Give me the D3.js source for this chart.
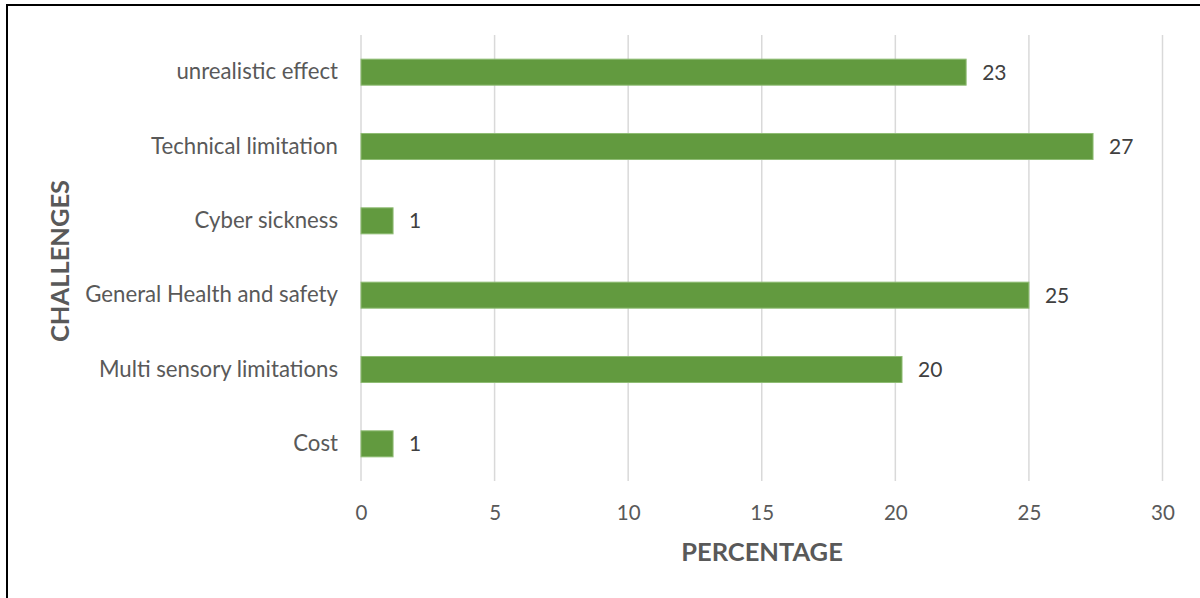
<!DOCTYPE html>
<html>
<head>
<meta charset="utf-8">
<script src="https://cdn.jsdelivr.net/npm/d3@7"></script>
<style>
  html, body { margin: 0; padding: 0; background: #fff; }
  svg { display: block; }
</style>
</head>
<body>
<svg id="chart" width="1200" height="598"></svg>
<script>
const categories = ["unrealistic effect", "Technical limitation", "Cyber sickness", "General Health and safety", "Multi sensory limitations", "Cost"];
const values = [22.65, 27.4, 1.2, 25.0, 20.25, 1.2];
const valueLabels = ["23", "27", "1", "25", "20", "1"];
const xTicks = [0, 5, 10, 15, 20, 25, 30];
const xTitle = "PERCENTAGE";
const yTitle = "CHALLENGES";

(function () {
const svg = d3.select("#chart");
const font = "Lato, 'Open Sans', sans-serif";

svg.append("rect")
  .attr("x", 7).attr("y", 5).attr("width", 1220).attr("height", 620)
  .attr("fill", "#fff").attr("stroke", "#000").attr("stroke-width", 2);

const pl = 361, pr = 1162.5, pt = 35, pb = 481;
const x = d3.scaleLinear().domain([0, 30]).range([pl, pr]);
const y = d3.scaleBand().domain(categories).range([pt, pb]).paddingInner(0.65).paddingOuter(0.325);

svg.append("g").selectAll("line").data(xTicks).join("line")
  .attr("x1", d => x(d)).attr("x2", d => x(d))
  .attr("y1", pt).attr("y2", pb)
  .attr("stroke", "#d9d9d9").attr("stroke-width", 1.5);

const xAxis = d3.axisBottom(x).tickValues(xTicks).tickSize(0).tickPadding(0);
const gx = svg.append("g").attr("transform", `translate(0,${pb})`).call(xAxis);
gx.select(".domain").remove();
gx.selectAll("text")
  .attr("y", 32).attr("dy", "0.32em")
  .attr("font-family", font).attr("font-size", 20.5).attr("fill", "#595959");

const yAxis = d3.axisLeft(y).tickSize(0).tickPadding(0);
const gy = svg.append("g").attr("transform", `translate(338,0)`).call(yAxis);
gy.select(".domain").remove();
gy.selectAll("text")
  .attr("x", 0).attr("dy", "0.32em")
  .attr("font-family", font).attr("font-size", 22.2).attr("fill", "#595959");

const data = categories.map((c, i) => ({c, v: values[i], l: valueLabels[i]}));
svg.append("g").selectAll("rect").data(data).join("rect")
  .attr("x", x(0)).attr("y", d => y(d.c))
  .attr("width", d => x(d.v) - x(0)).attr("height", y.bandwidth())
  .attr("fill", "#629a3f").attr("stroke", "#8fbc74").attr("stroke-width", 1);

svg.append("g").selectAll("text").data(data).join("text")
  .attr("x", d => x(d.v) + 16).attr("y", d => y(d.c) + y.bandwidth() / 2)
  .attr("dy", "0.35em")
  .attr("font-family", font).attr("font-size", 21).attr("fill", "#404040")
  .text(d => d.l);

svg.append("text")
  .attr("x", 762).attr("y", 552).attr("dy", "0.35em").attr("text-anchor", "middle")
  .attr("font-family", font).attr("font-weight", "bold").attr("font-size", 25.5)
  .attr("fill", "#595959").text(xTitle);

svg.append("text")
  .attr("transform", "translate(60,261) rotate(-90)")
  .attr("dy", "0.35em").attr("text-anchor", "middle")
  .attr("font-family", font).attr("font-weight", "bold").attr("font-size", 25.5)
  .attr("fill", "#595959").text(yTitle);
})();
</script>
</body>
</html>
